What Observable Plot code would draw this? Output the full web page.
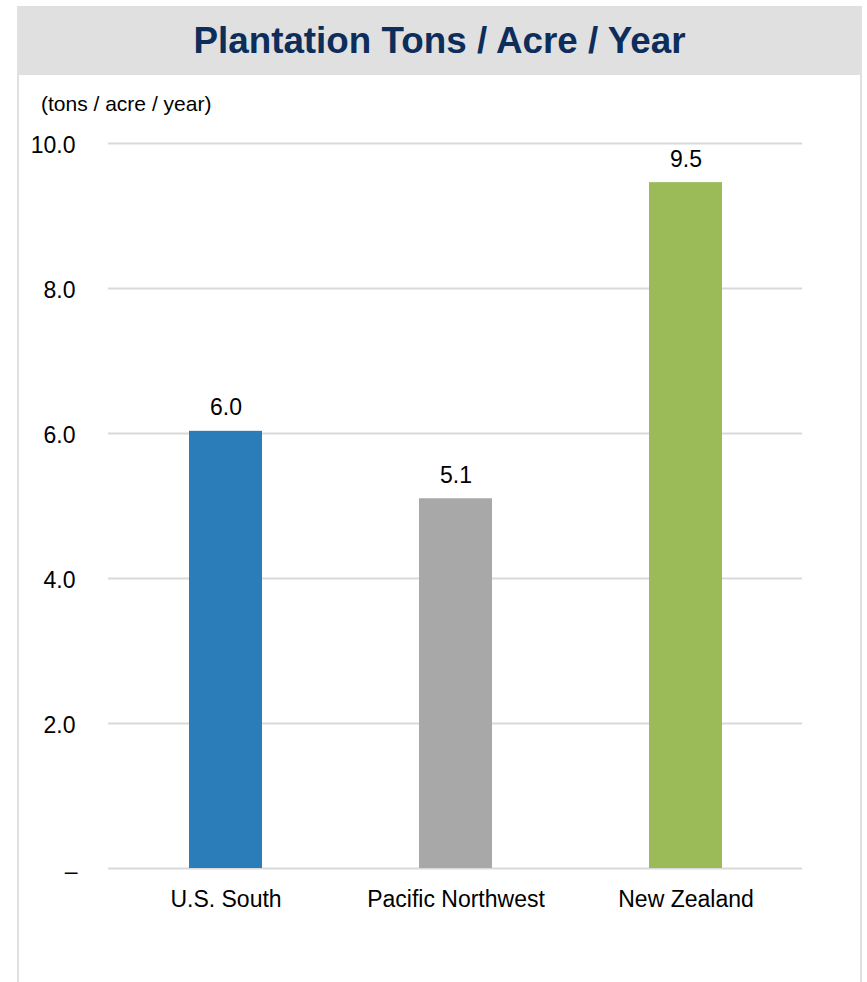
<!DOCTYPE html>
<html>
<head>
<meta charset="utf-8">
<script src="https://cdn.jsdelivr.net/npm/d3@7"></script>
<script src="https://cdn.jsdelivr.net/npm/@observablehq/plot@0.6"></script>
<style>
  html, body { margin: 0; padding: 0; background: #fff; width: 867px; height: 982px; overflow: hidden; }
  body { font-family: "Liberation Sans", Arial, sans-serif; color: #000; position: relative; }
  #frame { position: absolute; left: 17px; top: 6px; width: 845px; height: 990px; border: 2px solid #e0e0e0; box-sizing: border-box; }
  #banner { position: absolute; left: 17px; top: 6px; width: 845px; height: 69px; background: #e0e0e0; }
  #title { position: absolute; left: 17px; top: 6px; width: 845px; height: 69px; line-height: 69px; text-align: center; font-weight: bold; font-size: 36.8px; color: #0d2d5b; }
  #subtitle { position: absolute; left: 41px; top: 92px; font-size: 21px; line-height: 24px; color: #000; }
  #chart { position: absolute; left: 0; top: 120px; }
</style>
</head>
<body>
<div id="frame"></div>
<div id="banner"></div>
<div id="title">Plantation Tons / Acre / Year</div>
<div id="subtitle">(tons / acre / year)</div>
<div id="chart"></div>
<script>
const categories = ["U.S. South", "Pacific Northwest", "New Zealand"];
const values = [6.03, 5.1, 9.46];
const colors = ["#2a7db8", "#a8a8a8", "#9bbb59"];
const yTicks = [0, 2, 4, 6, 8, 10];

const data = categories.map((c, i) => ({category: c, value: values[i], color: colors[i]}));

const chart = Plot.plot({
  width: 867,
  height: 862,
  marginTop: 23,
  marginBottom: 114,
  marginLeft: 108,
  marginRight: 65,
  style: {fontFamily: "'Liberation Sans', Arial, sans-serif", background: "transparent", color: "#000"},
  x: {domain: categories, paddingInner: 0.683, paddingOuter: 0.347, label: null},
  y: {domain: [0, 10], label: null},
  color: {type: "identity"},
  marks: [
    Plot.ruleY(yTicks, {stroke: "#d9d9d9", strokeWidth: 2}),
    Plot.barY(data, {x: "category", y: "value", fill: "color"}),
    Plot.text(data, {x: "category", y: "value", text: d => d.value.toFixed(1), dy: -16, lineAnchor: "bottom", fontSize: 23, fill: "#000"}),
    Plot.axisY({ticks: yTicks.filter(d => d !== 0), tickFormat: d => d.toFixed(1), tickSize: 0, tickPadding: 33, fontSize: 23, dy: 2, label: null}),
    Plot.axisY({ticks: [0], tickFormat: () => "–", tickSize: 0, tickPadding: 31, fontSize: 23, dy: 3, label: null}),
    Plot.axisX({tickSize: 0, tickPadding: 22, fontSize: 23, label: null})
  ]
});
document.getElementById("chart").appendChild(chart);
</script>
</body>
</html>
